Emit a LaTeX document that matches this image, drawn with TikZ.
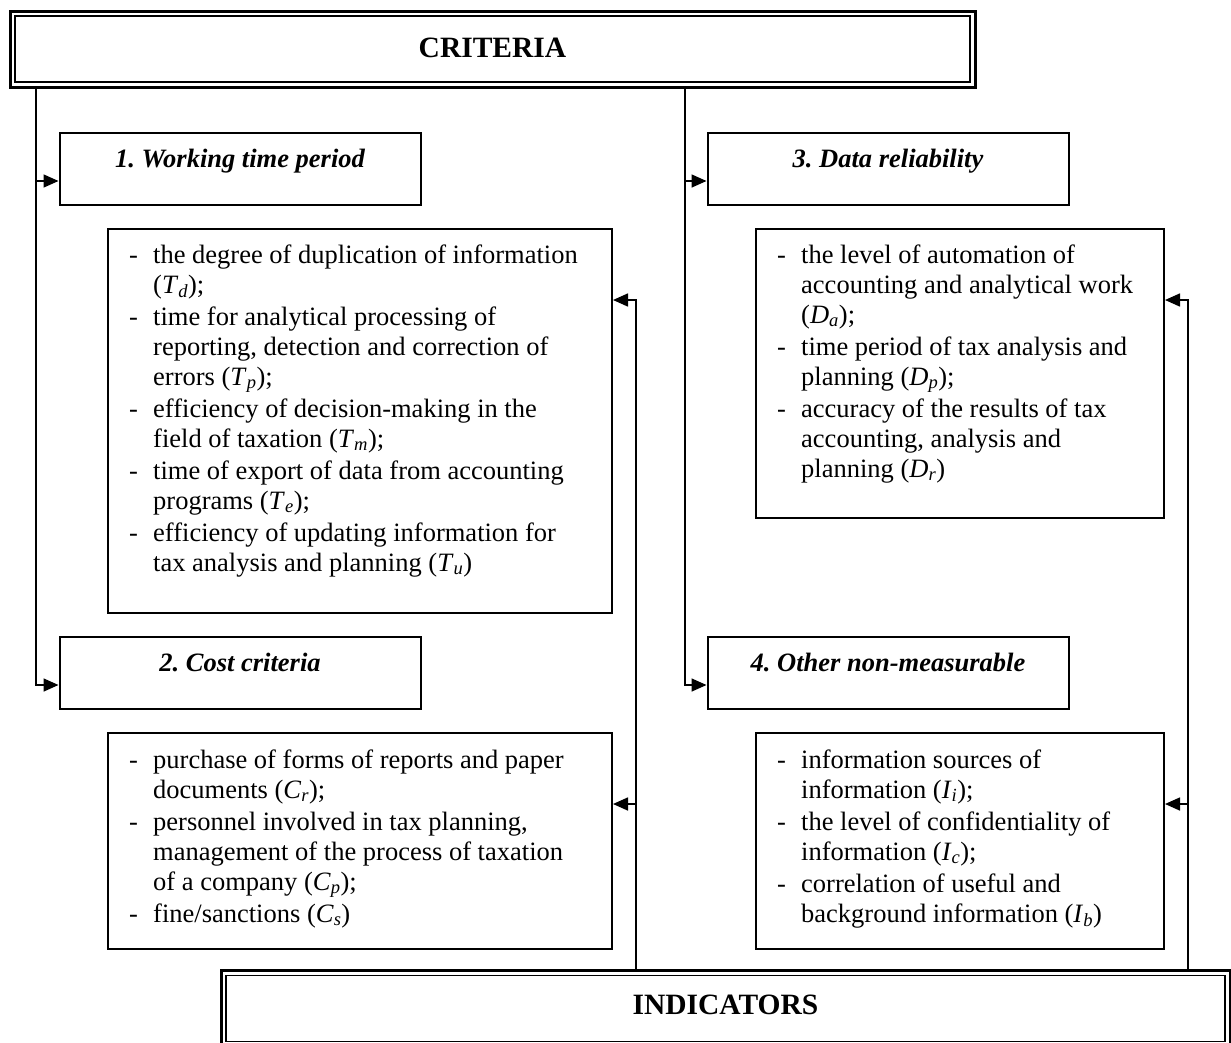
\documentclass[tikz,border=0pt]{standalone}
\usepackage{fontspec}
\setmainfont{Liberation Serif}
\usetikzlibrary{arrows.meta}
\frenchspacing
\newcommand\dsh{\makebox[24pt][l]{-}}
\newcommand\indt{\hspace*{24pt}}
\newcommand\vsub[2]{\textit{#1}\textsubscript{\textit{#2}}}
\newcommand\igap{\vskip2pt}
\tikzset{
  hdrbox/.style={draw, line width=2pt, minimum width=361pt, minimum height=72pt,
    inner sep=0pt, text height=34pt, text depth=38pt,
    font=\fontsize{26.5}{30}\selectfont\bfseries\itshape},
  listbox/.style={draw, line width=2pt, inner sep=0pt},
  itemtext/.style={anchor=base west, inner sep=0pt, font=\fontsize{26.5}{30}\selectfont},
  bigouter/.style={draw, line width=3pt, minimum height=76pt, inner sep=0pt,
    font=\fontsize{29.5}{33}\selectfont\bfseries},
  biginner/.style={draw, line width=1.5pt, minimum height=66pt, inner sep=0pt},
  conn/.style={line width=1.6pt},
  arr/.style={conn, -{Triangle[length=15pt,width=13pt]}}
}
\begin{document}
\begin{tikzpicture}[x=1pt,y=-1pt]
\useasboundingbox (0,0) rectangle (1231,1042);

% CRITERIA
\node[bigouter, minimum width=965pt, text height=46.5pt, text depth=29.5pt] (crit) at (492.5,49) {CRITERIA};
\node[biginner, minimum width=955pt] (critin) at (crit.center) {};

% INDICATORS
\node[bigouter, minimum width=1009pt, text height=43.5pt, text depth=32.5pt] (ind) at (725.5,1008.5) {INDICATORS};
\node[biginner, minimum width=999pt] (indin) at (ind.center) {};

% header boxes
\node[hdrbox] (b1) at (240,169) {1. Working time period};
\node[hdrbox] (b2) at (240,673) {2. Cost criteria};
\node[hdrbox] (b3) at (888,169) {3. Data reliability};
\node[hdrbox] (b4) at (888,673) {4. Other non-measurable};

% list boxes
\node[listbox, minimum width=504pt, minimum height=384pt] (c1) at (360,421) {};
\node[listbox, minimum width=504pt, minimum height=216pt] (c2) at (360,841) {};
\node[listbox, minimum width=408pt, minimum height=289pt] (c3) at (960,373.5) {};
\node[listbox, minimum width=408pt, minimum height=216pt] (c4) at (960,841) {};

% list texts
\node[itemtext] (t1) at (129,263) {\vtop{\lineskiplimit=-100pt
  \hbox{\dsh the degree of duplication of information}
  \hbox{\indt(\vsub{T}{d});}\igap
  \hbox{\dsh time for analytical processing of}
  \hbox{\indt reporting, detection and correction of}
  \hbox{\indt errors (\vsub{T}{p});}\igap
  \hbox{\dsh efficiency of decision-making in the}
  \hbox{\indt field of taxation (\vsub{T}{m});}\igap
  \hbox{\dsh time of export of data from accounting}
  \hbox{\indt programs (\vsub{T}{e});}\igap
  \hbox{\dsh efficiency of updating information for}
  \hbox{\indt tax analysis and planning (\vsub{T}{u})}}};

\node[itemtext] (t2) at (129,768) {\vtop{\lineskiplimit=-100pt
  \hbox{\dsh purchase of forms of reports and paper}
  \hbox{\indt documents (\vsub{C}{r});}\igap
  \hbox{\dsh personnel involved in tax planning,}
  \hbox{\indt management of the process of taxation}
  \hbox{\indt of a company (\vsub{C}{p});}\igap
  \hbox{\dsh fine/sanctions (\vsub{C}{s})}}};

\node[itemtext] (t3) at (777,263) {\vtop{\lineskiplimit=-100pt
  \hbox{\dsh the level of automation of}
  \hbox{\indt accounting and analytical work}
  \hbox{\indt(\vsub{D}{a});}\igap
  \hbox{\dsh time period of tax analysis and}
  \hbox{\indt planning (\vsub{D}{p});}\igap
  \hbox{\dsh accuracy of the results of tax}
  \hbox{\indt accounting, analysis and}
  \hbox{\indt planning (\vsub{D}{r})}}};

\node[itemtext] (t4) at (777,768) {\vtop{\lineskiplimit=-100pt
  \hbox{\dsh information sources of}
  \hbox{\indt information (\vsub{I}{i});}\igap
  \hbox{\dsh the level of confidentiality of}
  \hbox{\indt information (\vsub{I}{c});}\igap
  \hbox{\dsh correlation of useful and}
  \hbox{\indt background information (\vsub{I}{b})}}};

% connector points
\coordinate (ltop) at (36,88);
\coordinate (rtop) at (685,88);
\coordinate (fb1) at (636,971);
\coordinate (fb2) at (1188,971);
\coordinate (b1in) at ([yshift=-49pt]b1.north west);
\coordinate (b2in) at ([yshift=-49pt]b2.north west);
\coordinate (b3in) at ([yshift=-49pt]b3.north west);
\coordinate (b4in) at ([yshift=-49pt]b4.north west);
\coordinate (c1in) at ([yshift=-72pt]c1.north east);
\coordinate (c2in) at ([yshift=-72pt]c2.north east);
\coordinate (c3in) at ([yshift=-72pt]c3.north east);
\coordinate (c4in) at ([yshift=-72pt]c4.north east);

% criteria trunks
\draw[arr] (ltop) |- (b2in);
\draw[arr] (ltop |- b1in) -- (b1in);
\draw[arr] (rtop) |- (b4in);
\draw[arr] (rtop |- b3in) -- (b3in);

% indicator feedback
\draw[arr] (fb1) |- (c1in);
\draw[arr] (fb1 |- c2in) -- (c2in);
\draw[arr] (fb2) |- (c3in);
\draw[arr] (fb2 |- c4in) -- (c4in);
\end{tikzpicture}
\end{document}
